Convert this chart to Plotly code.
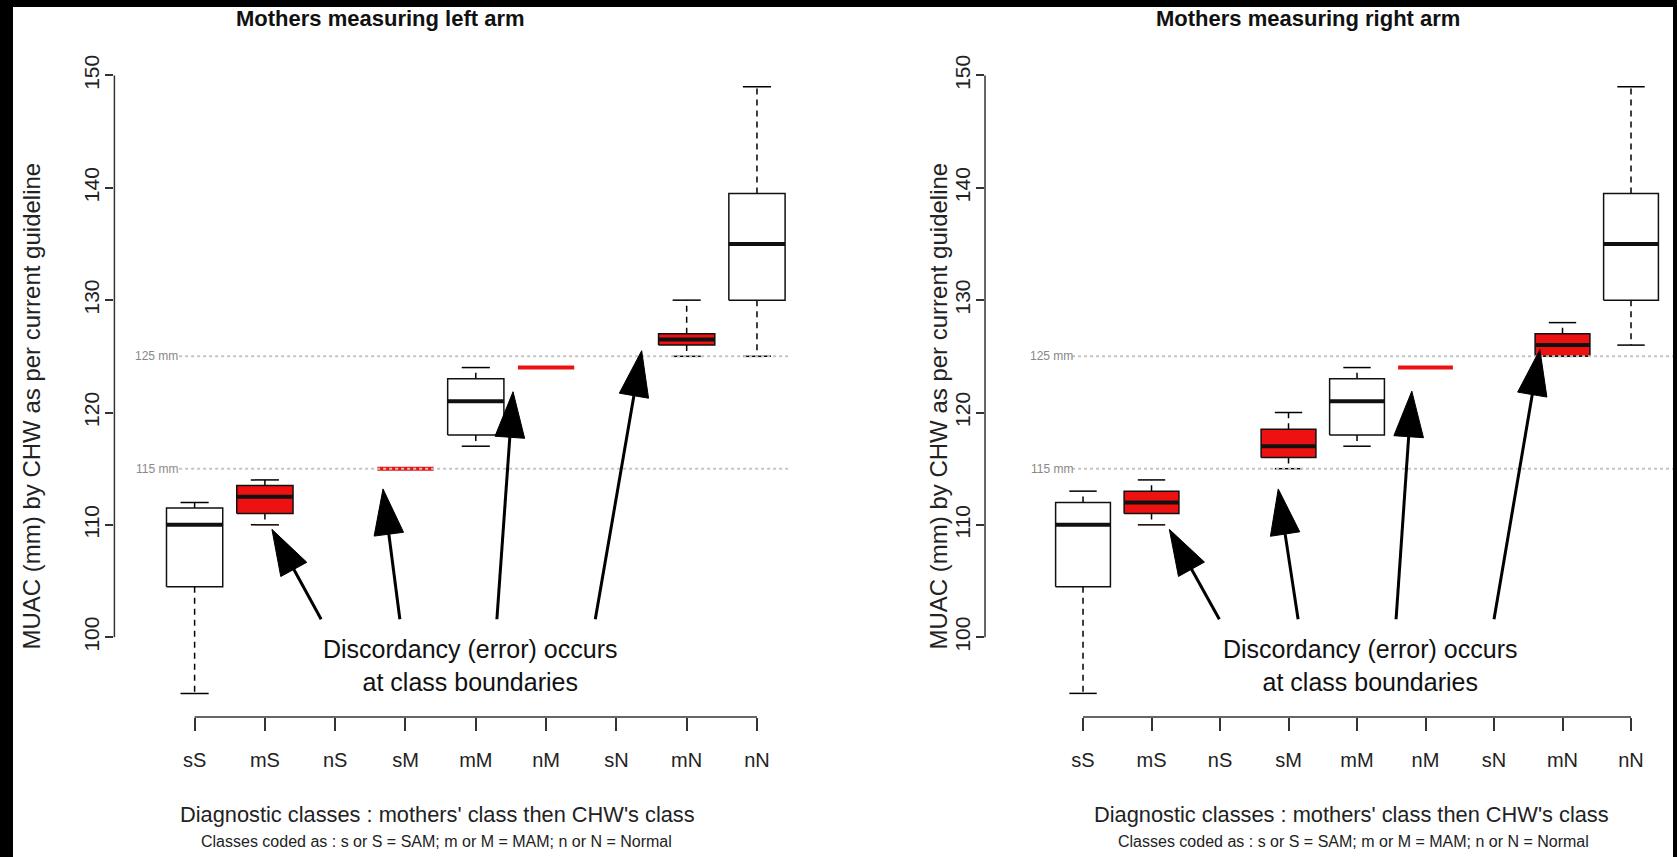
import plotly.graph_objects as go

# ---------------- data ----------------
categories = ["sS", "mS", "nS", "sM", "mM", "nM", "sN", "mN", "nN"]
discordant = [False, True, False, True, False, True, False, True, False]

left_low = [95, 110, None, 115, 117, 124, None, 125, 125]
left_q1 = [104.5, 111, None, 115, 118, 124, None, 126, 130]
left_med = [110, 112.5, None, 115, 121, 124, None, 126.5, 135]
left_q3 = [111.5, 113.5, None, 115, 123, 124, None, 127, 139.5]
left_high = [112, 114, None, 115, 124, 124, None, 130, 149]

right_low = [95, 110, None, 115, 117, 124, None, 125, 126]
right_q1 = [104.5, 111, None, 116, 118, 124, None, 125, 130]
right_med = [110, 112, None, 117, 121, 124, None, 126, 135]
right_q3 = [112, 113, None, 118.5, 123, 124, None, 127, 139.5]
right_high = [113, 114, None, 120, 124, 124, None, 128, 149]

panel_titles = ["Mothers measuring left arm", "Mothers measuring right arm"]
y_title = "MUAC (mm) by CHW as per current guideline"
x_title = "Diagnostic classes : mothers' class then CHW's class"
sub_title = "Classes coded as : s or S = SAM; m or M = MAM; n or N = Normal"
note_text = "Discordancy (error) occurs<br>at class boundaries"
y_ticks = [100, 110, 120, 130, 140, 150]
cut_values = [125, 115]
cut_labels = ["125 mm", "115 mm"]

# arrows (tail -> tip) in data units
left_arrow_tail_x = [2.80, 3.92, 5.30, 6.70]
left_arrow_tail_y = [101.6, 101.6, 101.6, 101.6]
left_arrow_tip_x = [2.10, 3.68, 5.53, 7.36]
left_arrow_tip_y = [109.6, 113.2, 121.85, 125.5]
right_arrow_tail_x = [2.99, 4.14, 5.57, 7.00]
right_arrow_tail_y = [101.6, 101.6, 101.6, 101.6]
right_arrow_tip_x = [2.26, 3.85, 5.80, 7.67]
right_arrow_tip_y = [109.6, 113.2, 121.9, 125.6]

# ---------------- styling ----------------
W, H = 1677, 857
RED = "#ee1111"
BOXW = 0.8
CAPW = 0.4
FONT = "Liberation Sans"

fig = go.Figure()

panels = [
    dict(xa="x", ya="y", low=left_low, q1=left_q1, med=left_med, q3=left_q3, high=left_high,
         tx=left_arrow_tail_x, ty=left_arrow_tail_y, hx=left_arrow_tip_x, hy=left_arrow_tip_y,
         dom=[114.4 / W, 788.6 / W], rng=[-0.141, 9.45],
         cutlab_x=0.46, cut_start=0.78, note_x=4.92,
         title_x=380 / W, xt_x=437 / W, st_x=436 / W, yt_x=32 / W),
    dict(xa="x2", ya="y2", low=right_low, q1=right_q1, med=right_med, q3=right_q3, high=right_high,
         tx=right_arrow_tail_x, ty=right_arrow_tail_y, hx=right_arrow_tip_x, hy=right_arrow_tip_y,
         dom=[985 / W, 1673 / W], rng=[-0.431, 9.613],
         cutlab_x=0.54, cut_start=0.84, note_x=5.19,
         title_x=1308 / W, xt_x=1351 / W, st_x=1353 / W, yt_x=939 / W),
]

for p in panels:
    xa, ya = p["xa"], p["ya"]
    wx, wy, cx, cy = [], [], [], []
    for i, cat in enumerate(categories):
        if p["med"][i] is None:
            continue
        xc = i + 1
        q1, q3, lo, hi = p["q1"][i], p["q3"][i], p["low"][i], p["high"][i]
        if hi > q3:
            wx += [xc, xc, None]; wy += [q3, hi, None]
        if lo < q1:
            wx += [xc, xc, None]; wy += [q1, lo, None]
        if q3 > q1:
            cx += [xc - CAPW / 2, xc + CAPW / 2, None, xc - CAPW / 2, xc + CAPW / 2, None]
            cy += [hi, hi, None, lo, lo, None]
    fig.add_trace(go.Scatter(x=wx, y=wy, xaxis=xa, yaxis=ya, mode="lines",
                             line=dict(color="black", width=1.5, dash="6px,5px"),
                             showlegend=False, hoverinfo="skip"))
    fig.add_trace(go.Scatter(x=cx, y=cy, xaxis=xa, yaxis=ya, mode="lines",
                             line=dict(color="black", width=1.5),
                             showlegend=False, hoverinfo="skip"))
    for i, cat in enumerate(categories):
        if p["med"][i] is None:
            continue
        xc = i + 1
        q1, q3, med = p["q1"][i], p["q3"][i], p["med"][i]
        fill = RED if discordant[i] else "white"
        if q3 > q1:
            fig.add_trace(go.Scatter(
                x=[xc - BOXW / 2, xc + BOXW / 2, xc + BOXW / 2, xc - BOXW / 2, xc - BOXW / 2],
                y=[q1, q1, q3, q3, q1], xaxis=xa, yaxis=ya, mode="lines",
                fill="toself", fillcolor=fill, line=dict(color="#111111", width=1.5),
                showlegend=False, hoverinfo="skip"))
            fig.add_trace(go.Scatter(x=[xc - BOXW / 2, xc + BOXW / 2], y=[med, med],
                                     xaxis=xa, yaxis=ya, mode="lines",
                                     line=dict(color="#111111", width=4),
                                     showlegend=False, hoverinfo="skip"))
        else:
            fig.add_trace(go.Scatter(x=[xc - BOXW / 2, xc + BOXW / 2], y=[med, med],
                                     xaxis=xa, yaxis=ya, mode="lines",
                                     line=dict(color=RED, width=4),
                                     showlegend=False, hoverinfo="skip"))
    # reference cut-off lines
    for v in cut_values:
        fig.add_trace(go.Scatter(x=[p["cut_start"], p["rng"][1]], y=[v, v], xaxis=xa, yaxis=ya,
                                 mode="lines", line=dict(color="#c4c4c4", width=2, dash="dot"),
                                 showlegend=False, hoverinfo="skip"))
    # arrows
    for tx, ty, hx, hy in zip(p["tx"], p["ty"], p["hx"], p["hy"]):
        fig.add_trace(go.Scatter(x=[tx, hx], y=[ty, hy], xaxis=xa, yaxis=ya, mode="lines+markers",
                                 line=dict(color="black", width=3),
                                 marker=dict(symbol="arrow", size=[0, 48], angleref="previous",
                                             color="black", opacity=1,
                                             line=dict(width=1, color="black")),
                                 showlegend=False, hoverinfo="skip"))

yrange = [92.89, 151.57]
ydom = [1 - 716.6 / H, 1 - 55 / H]
axis_common = dict(showgrid=False, zeroline=False, showline=False, fixedrange=True)
for k, p in enumerate(panels):
    sfx = "" if k == 0 else "2"
    fig.layout["xaxis" + sfx] = dict(
        domain=p["dom"], range=p["rng"], anchor="y" + sfx,
        tickmode="array", tickvals=list(range(1, len(categories) + 1)), ticktext=categories,
        ticks="outside", ticklen=13, tickwidth=1.5, tickcolor="#333",
        tickfont=dict(family=FONT, size=20, color="#222"), ticklabelstandoff=12,
        **axis_common)
    fig.layout["yaxis" + sfx] = dict(
        domain=ydom, range=yrange, anchor="x" + sfx,
        tickmode="array", tickvals=y_ticks, ticktext=[str(t) for t in y_ticks],
        ticks="outside", ticklen=8, tickwidth=1.5, tickcolor="#333", tickangle=-90,
        tickfont=dict(family=FONT, size=21, color="#222"), ticklabelstandoff=-2,
        **axis_common)
    # axis lines (R style: only between extreme ticks)
    fig.add_shape(type="line", xref="x" + sfx, yref="y" + sfx + " domain",
                  x0=1, x1=len(categories), y0=0, y1=0, line=dict(color="#333", width=1.5))
    fig.add_shape(type="line", xref="x" + sfx + " domain", yref="y" + sfx,
                  x0=0, x1=0, y0=y_ticks[0], y1=y_ticks[-1], line=dict(color="#333", width=1.5))
    # cut-off labels
    for v, lab in zip(cut_values, cut_labels):
        fig.add_annotation(x=p["cutlab_x"], y=v, xref="x" + sfx, yref="y" + sfx, text=lab,
                           showarrow=False, xanchor="center", yanchor="middle",
                           font=dict(family=FONT, size=12, color="#888"))
    # note text
    fig.add_annotation(x=p["note_x"], y=97.46, xref="x" + sfx, yref="y" + sfx, text=note_text,
                       showarrow=False, xanchor="center", yanchor="middle",
                       font=dict(family=FONT, size=25, color="#111"))
    fig.add_annotation(x=p["title_x"], y=1 - 16 / H, xref="paper", yref="paper",
                       text="<b>" + panel_titles[k] + "</b>", showarrow=False,
                       xanchor="center", yanchor="middle", font=dict(family=FONT, size=22, color="#111"))
    fig.add_annotation(x=p["xt_x"], y=1 - 814 / H, xref="paper", yref="paper", text=x_title,
                       showarrow=False, xanchor="center", yanchor="middle",
                       font=dict(family=FONT, size=21.8, color="#222"))
    fig.add_annotation(x=p["st_x"], y=1 - 841 / H, xref="paper", yref="paper", text=sub_title,
                       showarrow=False, xanchor="center", yanchor="middle",
                       font=dict(family=FONT, size=16, color="#222"))
    fig.add_annotation(x=p["yt_x"], y=1 - 405 / H, xref="paper", yref="paper", text=y_title,
                       textangle=-90, showarrow=False, xanchor="center", yanchor="middle",
                       font=dict(family=FONT, size=24, color="#222"))

# white page inside a thin black frame
fig.add_shape(type="rect", xref="paper", yref="paper", x0=13 / W, x1=1673 / W, y0=0, y1=1 - 4 / H,
              fillcolor="white", line=dict(width=0), layer="below")

fig.update_layout(width=W, height=H, margin=dict(l=0, r=0, t=0, b=0),
                  paper_bgcolor="black", plot_bgcolor="rgba(0,0,0,0)", showlegend=False)

fig.write_html("out.html", config={"displayModeBar": False},
               post_script="document.body.style.margin='0';document.body.style.overflow='hidden';")
